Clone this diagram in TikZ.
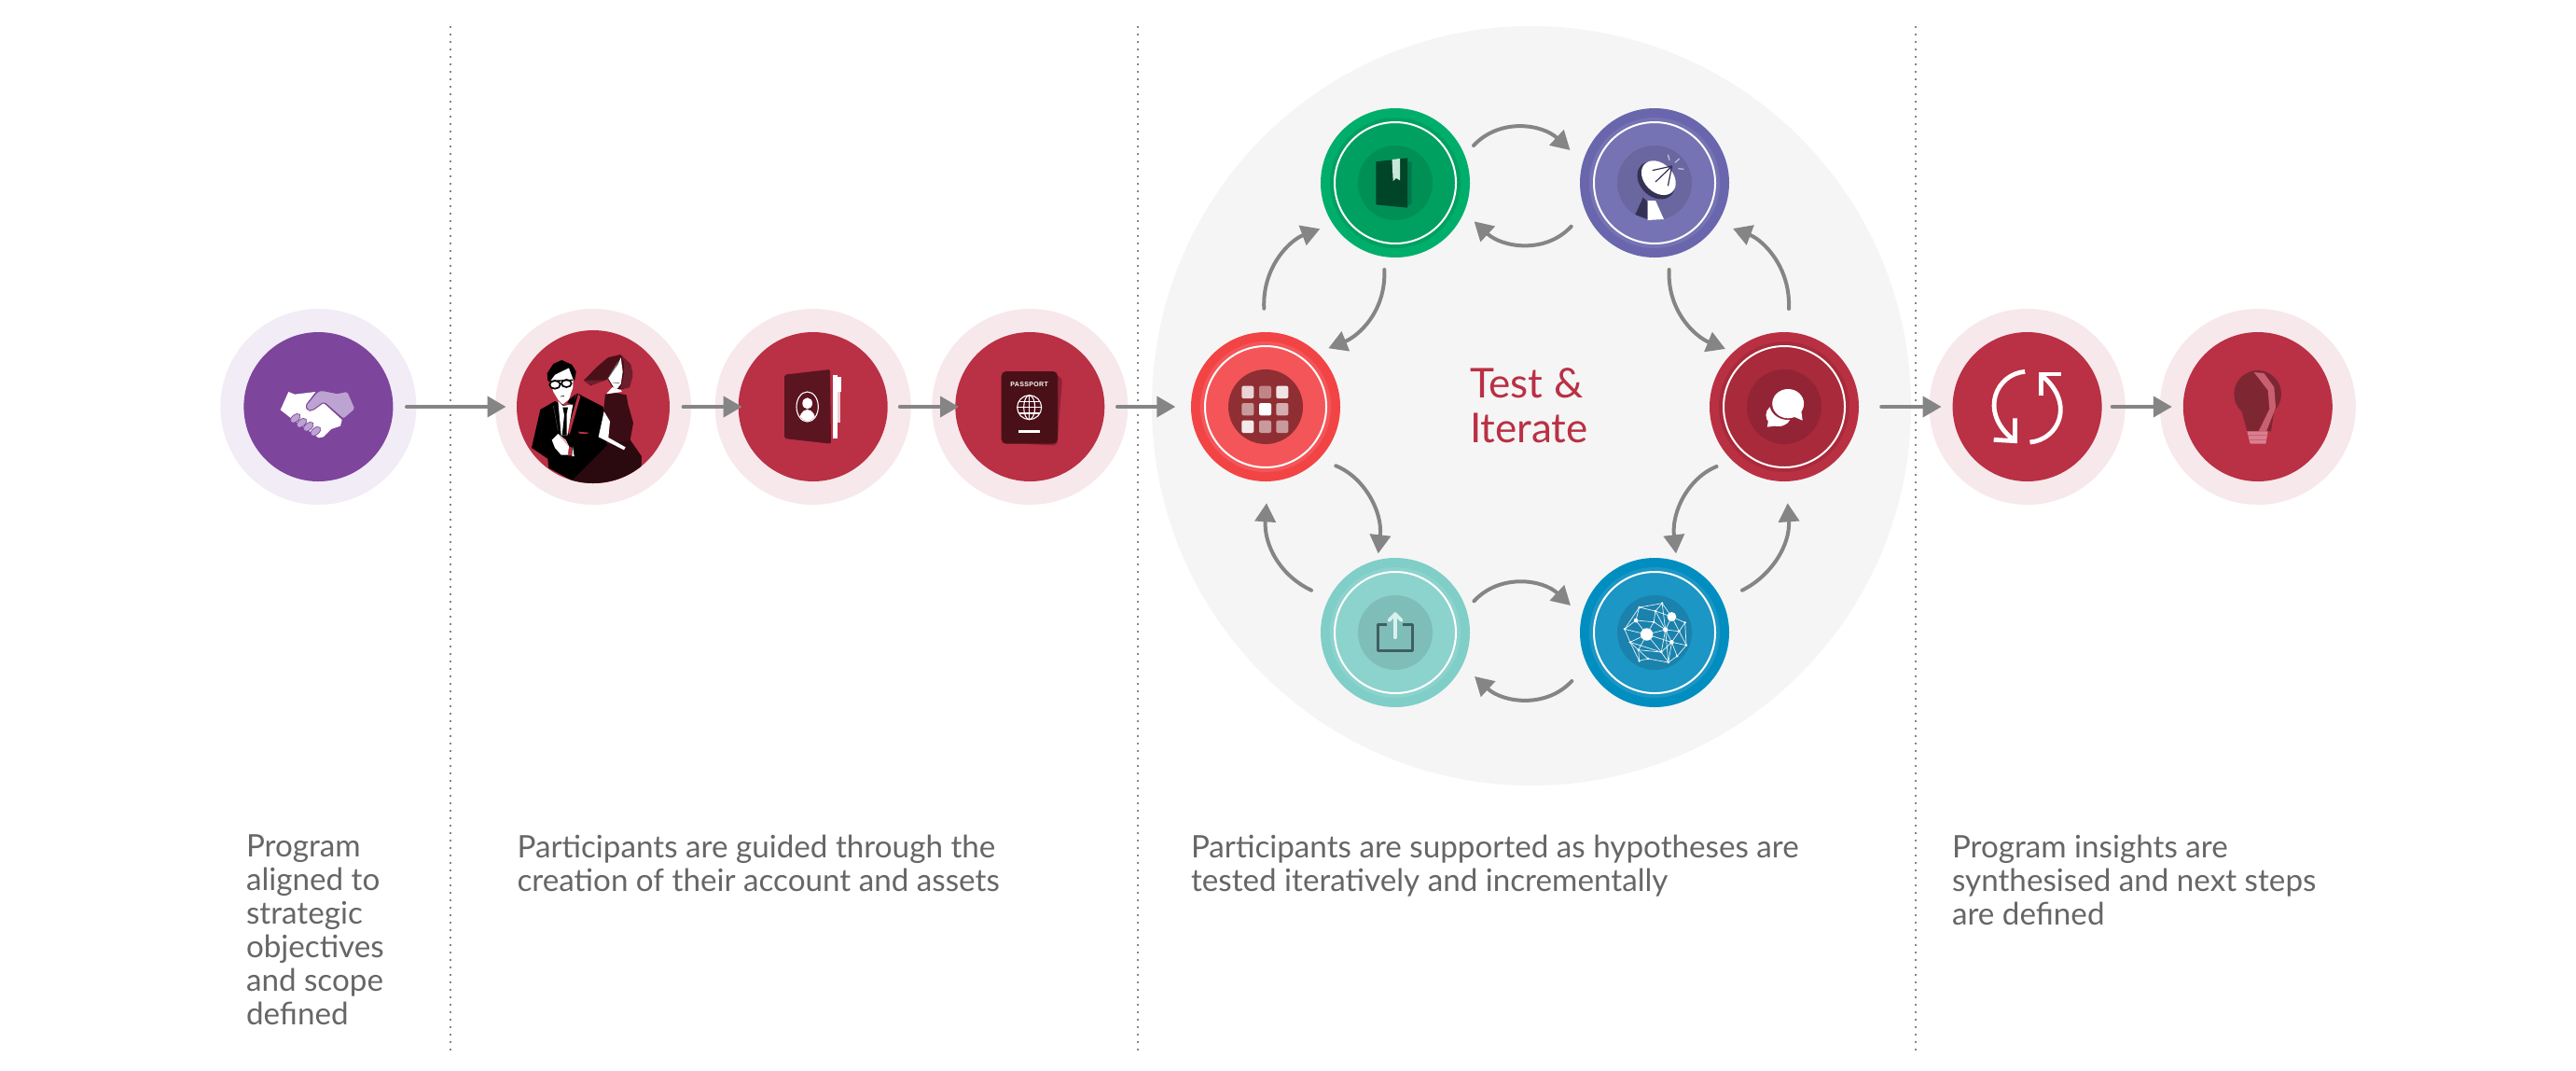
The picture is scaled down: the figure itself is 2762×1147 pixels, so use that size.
\documentclass[tikz,border=0pt]{standalone}
\usepackage{fontspec}
\setmainfont{Lato}
\newfontfamily\passfont{Liberation Sans}[LetterSpace=5]
\usetikzlibrary{arrows.meta,calc}
\definecolor{haloP}{HTML}{F1ECF6}
\definecolor{mainP}{HTML}{7D459C}
\definecolor{liteP}{HTML}{BDA3D2}
\definecolor{haloR}{HTML}{F7E8EB}
\definecolor{mainR}{HTML}{BA3044}
\definecolor{arrowgray}{HTML}{858585}
\definecolor{bigbg}{HTML}{F5F5F5}
\definecolor{capgray}{HTML}{666666}
\definecolor{wine}{HTML}{5A1520}
\definecolor{winedk}{HTML}{4A1018}
\definecolor{winelt}{HTML}{6E1F2E}
\definecolor{shadowdk}{HTML}{2A0A0E}
\definecolor{dressdk}{HTML}{3A0D14}
\definecolor{bookdk}{HTML}{004527}
\definecolor{bookbk}{HTML}{00774A}
\definecolor{bookmk}{HTML}{C9E8DC}
\definecolor{dishdk}{HTML}{343154}
\definecolor{sharedk}{HTML}{3F5F60}
\definecolor{sharelt}{HTML}{D9F0EE}
\definecolor{bulbdk}{HTML}{7E2733}
\definecolor{bulblt}{HTML}{C96072}
\definecolor{bulbbs}{HTML}{D88090}
\definecolor{gO}{HTML}{00AE6B}\definecolor{gI}{HTML}{00A060}\definecolor{gK}{HTML}{009055}
\definecolor{pO}{HTML}{6A66AD}\definecolor{pI}{HTML}{7573B3}\definecolor{pK}{HTML}{6A66A0}
\definecolor{rO}{HTML}{F24445}\definecolor{rI}{HTML}{F45558}\definecolor{rK}{HTML}{8F2F33}
\definecolor{cO}{HTML}{BA3043}\definecolor{cI}{HTML}{A82A3B}\definecolor{cK}{HTML}{932435}
\definecolor{tO}{HTML}{7FCEC7}\definecolor{tI}{HTML}{8CD3CD}\definecolor{tK}{HTML}{7FBDB9}
\definecolor{bO}{HTML}{008EC0}\definecolor{bI}{HTML}{1C96C4}\definecolor{bK}{HTML}{1A82AC}
\tikzset{
  disk/.style={circle,inner sep=0pt,outer sep=0pt,draw=none},
  flow/.style={draw=arrowgray,line width=2pt,line cap=round,-{Triangle[length=10pt,width=11pt]}},
  loopflow/.style={draw=arrowgray,line width=2pt,line cap=round,-{Triangle[length=10pt,width=11pt]}},
  dotline/.style={draw=arrowgray,line width=1pt,dash pattern=on 1.1pt off 2.9pt},
  capnode/.style={anchor=north west,inner sep=0pt,outer sep=0pt,align=left,text=capgray,font=\fontsize{16.6}{18}\selectfont},
  zoomB/.style={shift={(760,310)},x=0.16667pt,y=-0.16667pt},
  zoomC/.style={shift={(1250,90)},x=0.20408pt,y=-0.16667pt},
  zoomD/.style={shift={(1250,330)},x=0.16667pt,y=-0.16667pt},
  zoomE/.style={shift={(1250,550)},x=0.22321pt,y=-0.16667pt},
  zoomF/.style={shift={(1780,330)},x=0.24234pt,y=-0.16667pt},
  zoomG/.style={shift={(545,365)},x=0.16667pt,y=-0.16667pt},
  zoomH/.style={shift={(1730,150)},x=0.16667pt,y=-0.16667pt},
  zoomI/.style={shift={(290,400)},x=0.16667pt,y=-0.16667pt},
  zoomJ/.style={shift={(2370,385)},x=0.16667pt,y=-0.16667pt},
}
\newcommand{\flatdisk}[6]{% name x y halo main diam
  \node[disk,fill=#4,minimum size=105pt] (#1h) at (#2,#3) {};
  \node[disk,fill=#5,minimum size=#6pt] (#1) at (#2,#3) {};
}
\newcommand{\ringdisk}[6]{% name x y outer inner icon
  \node[disk,fill=#4,minimum size=80pt] (#1) at (#2,#3) {};
  \node[disk,fill=#5,minimum size=70pt] (#1i) at (#2,#3) {};
  \node[disk,draw=white,line width=1pt,minimum size=65pt] (#1w) at (#2,#3) {};
  \node[disk,fill=#6,minimum size=40pt] (#1k) at (#2,#3) {};
}
\begin{document}
\begin{tikzpicture}[x=0.5pt,y=-0.5pt]
\useasboundingbox (0,0) rectangle (2762,1147);
\fill[white] (0,0) rectangle (2762,1147);

% big background circle
\node[disk,fill=bigbg,minimum size=407pt] (bigc) at (1642,435) {};

% dotted separators
\coordinate (d1t) at (483,28);  \coordinate (d1b) at (483,1127);
\coordinate (d2t) at (1220,28); \coordinate (d2b) at (1220,1127);
\coordinate (d3t) at (2054,28); \coordinate (d3b) at (2054,1127);
\draw[dotline] (d1t) -- (d1b);
\draw[dotline] (d2t) -- (d2b);
\draw[dotline] (d3t) -- (d3b);

% row circles
\flatdisk{c1}{341.4}{436}{haloP}{mainP}{80}
\flatdisk{c2}{636}{436}{haloR}{mainR}{82}
\flatdisk{c3}{871.7}{436}{haloR}{mainR}{80}
\flatdisk{c4}{1104.3}{436}{haloR}{mainR}{80}
\flatdisk{c5}{2173.6}{436}{haloR}{mainR}{80}
\flatdisk{c6}{2420.8}{436}{haloR}{mainR}{80}

% loop circles
\ringdisk{green}{1496}{196}{gO}{gI}{gK}
\ringdisk{purple}{1774}{196}{pO}{pI}{pK}
\ringdisk{red}{1357}{436}{rO}{rI}{rK}
\ringdisk{crim}{1913}{436}{cO}{cI}{cK}
\ringdisk{teal}{1496}{678}{tO}{tI}{tK}
\ringdisk{blue}{1774}{678}{bO}{bI}{bK}

% row arrows
\draw[flow,shorten <=7.3pt,shorten >=5.75pt] (c1) -- (c2);
\draw[flow,shorten <=7.3pt,shorten >=-2pt] (c2) -- (c3);
\draw[flow,shorten <=6.6pt,shorten >=-1.85pt] (c3) -- (c4);
\draw[flow,shorten <=6.85pt,shorten >=8.35pt] (c4) -- (red);
\draw[flow,shorten <=12.1pt,shorten >=6pt] (crim) -- (c5);
\draw[flow,shorten <=5.55pt,shorten >=6pt] (c5) -- (c6);

% loop arrows
\draw[loopflow] ([shift={(84,-40)}]green.center) .. controls +(28,-30) and +(-30,-28) .. ([shift={(-90.5,-35)}]purple.center);
\draw[loopflow] ([shift={(-89.3,46.7)}]purple.center) .. controls +(-28,30) and +(30,28) .. ([shift={(84.6,41.3)}]green.center);
\draw[loopflow] ([shift={(84.4,-33.7)}]teal.center) .. controls +(28,-30) and +(-30,-28) .. ([shift={(-90,-29)}]blue.center);
\draw[loopflow] ([shift={(-88.7,52)}]blue.center) .. controls +(-28,30) and +(30,28) .. ([shift={(85,47)}]teal.center);
\draw[loopflow] ([shift={(-1.7,-105.3)}]red.center) .. controls +(-2,-45) and +(-32,12) .. ([shift={(-80.7,49.3)}]green.center);
\draw[loopflow] ([shift={(-11.7,93)}]green.center) .. controls +(2,45) and +(32,-13) .. ([shift={(67.3,-62.7)}]red.center);
\draw[loopflow] ([shift={(15.6,93)}]purple.center) .. controls +(-2,45) and +(-32,-13) .. ([shift={(-63,-62)}]crim.center);
\draw[loopflow] ([shift={(5,-105)}]crim.center) .. controls +(2,-45) and +(32,12) .. ([shift={(84,49)}]purple.center);
\draw[loopflow] ([shift={(75.3,63.3)}]red.center) .. controls +(30,12) and +(5,-45) .. ([shift={(-18.3,-84.7)}]teal.center);
\draw[loopflow] ([shift={(-90,-45.3)}]teal.center) .. controls +(-34,-16) and +(-3,44) .. ([shift={(1,103.3)}]red.center);
\draw[loopflow] ([shift={(-72.4,64)}]crim.center) .. controls +(-30,12) and +(-5,-45) .. ([shift={(23,-84.7)}]blue.center);
\draw[loopflow] ([shift={(94,-45.3)}]blue.center) .. controls +(32,-16) and +(3,44) .. ([shift={(3.7,103.3)}]crim.center);

% handshake
\begin{scope}[zoomI]
  \fill[white] (32,118) -- (58,60) -- (78,68) -- (145,60) -- (115,100) -- (130,120) -- (170,95) -- (230,150) -- (225,170) -- (195,180) -- (170,205) -- (155,208) -- (60,140) -- cycle;
  \fill[liteP,draw=mainP,line width=.5pt,rounded corners=1pt] (113,105) -- (150,60) -- (165,55) -- (215,65) -- (248,58) -- (273,115) -- (235,148) -- (172,93) -- (135,120) -- (120,120) -- cycle;
  \foreach \fx/\fy in {80/145,100/160,122/172,145/187}
    \fill[liteP,draw=mainP,line width=.35pt,rotate around={40:(\fx,\fy)}] (\fx,\fy) ellipse [x radius=19,y radius=11];
\end{scope}

% couple
\begin{scope}[zoomG]
  \clip (273,213) circle [radius=246];
  % woman's dress and long shadow
  \fill[dressdk] (312,172) -- (345,168) -- (380,175) -- (385,205) -- (402,265) -- (392,320) -- (428,372) -- (428,400) -- (320,335) -- (300,290) -- cycle;
  \fill[shadowdk] (320,335) -- (392,320) -- (428,372) -- (428,470) -- (205,470) -- (205,450) -- cycle;
  % man's jacket
  \fill[black] (103,222) -- (150,195) -- (180,208) -- (205,205) -- (222,170) -- (305,213) -- (310,250) -- (300,290) -- (320,335) -- (205,450) -- (130,410) -- (127,380) -- (75,345) -- cycle;
  \draw[black!75!white,line width=.3pt] (145,210) -- (160,290);
  % lapel, shirt, tie, pocket
  \fill[mainR] (225,172) -- (232,180) -- (197,302) -- (190,292) -- cycle;
  \fill[white] (160,195) -- (175,210) -- (208,205) -- (190,305) -- (170,305) -- cycle;
  \fill[black] (175,215) -- (192,215) -- (188,235) -- (188,305) -- (173,305) -- (180,240) -- cycle;
  \fill[mainR] (225,293) -- (258,296) -- (255,300) -- (228,299) -- cycle;
  % hand and cuff
  \fill[mainR] (195,340) -- (205,345) -- (205,370) -- (192,370) -- cycle;
  \fill[white] (207,340) -- (212,372) -- (205,372) -- cycle;
  \fill[white] (140,320) -- (160,300) -- (185,320) -- (195,340) -- (192,368) -- (170,368) -- (150,345) -- cycle;
  \fill[mainR!40!white] (160,303) -- (185,320) -- (193,340) -- (178,322) -- cycle;
  % head
  \fill[white] (133,128) -- (150,105) -- (170,95) -- (195,85) -- (209,112) -- (208,150) -- (195,190) -- (175,205) -- (160,190) -- (145,165) -- cycle;
  \fill[black] (127,130) -- (125,105) -- (145,75) -- (172,63) -- (205,78) -- (218,100) -- (213,130) -- (207,120) -- (195,88) -- (170,100) -- (150,110) -- (135,130) -- cycle;
  \draw[black,line width=.85pt,fill=white] (150,142) ellipse [x radius=17,y radius=13];
  \draw[black,line width=.85pt,fill=white] (187,138) ellipse [x radius=16,y radius=12];
  \draw[black,line width=.7pt] (130,131) -- (208,127);
  \draw[black,line width=.3pt] (168,180) -- (180,178);
  \fill[black] (195,190) -- (218,172) -- (206,206) -- (190,200) -- cycle;
  % woman's arm
  \fill[white] (308,228) -- (327,260) -- (322,312) -- (377,343) -- (372,352) -- (290,310) -- (300,265) -- cycle;
  % woman's neck, hair, face
  \fill[white] (335,150) -- (360,150) -- (365,165) -- (315,172) -- cycle;
  \fill[winedk] (243,128) -- (285,85) -- (320,55) -- (360,45) -- (392,75) -- (400,105) -- (390,150) -- (360,158) -- (335,150) -- (320,125) -- (285,135) -- (265,145) -- cycle;
  \fill[winelt] (365,50) -- (395,80) -- (400,115) -- (390,150) -- (362,155) -- (372,110) -- (372,70) -- cycle;
  \fill[winelt] (245,128) -- (310,128) -- (280,140) -- (262,143) -- cycle;
  \fill[black!55!white] (318,125) -- (345,80) -- (355,65) -- (335,115) -- cycle;
  \fill[white] (322,122) -- (352,78) -- (362,55) -- (368,100) -- (362,140) -- (350,155) -- (340,152) -- cycle;
  \draw[black!60!white,line width=.3pt] (335,135) -- (358,137);
\end{scope}

% account book
\begin{scope}[zoomB]
  \fill[white] (400,275) rectangle (413,480);
  \fill[white] (413,282) rectangle (426,330);
  \fill[haloR!85!mainR] (413,330) rectangle (423,430);
  \fill[wine,rounded corners=1pt] (243,275) -- (390,258) -- (393,497) -- (243,480) -- cycle;
  \draw[white,line width=.55pt] (317,378) ellipse [x radius=35,y radius=48];
  \begin{scope}
    \clip (317,378) ellipse [x radius=33,y radius=46];
    \fill[white] (317,367) ellipse [x radius=16,y radius=18];
    \fill[white] (317,430) ellipse [x radius=28,y radius=43];
  \end{scope}
\end{scope}

% passport
\begin{scope}[zoomB]
  \fill[mainR!60!winedk,rounded corners=2pt] (1100,270) -- (1137,285) -- (1120,503) -- (1010,497) -- cycle;
  \fill[winedk,rounded corners=2.5pt] (941,264) rectangle (1122,497);
  \node[inner sep=0pt,text=white,font=\passfont\bfseries\fontsize{3.5}{4}\selectfont] (pp) at (1031,307) {PASSPORT};
  \draw[white,line width=.55pt] (1031,380) circle [radius=39];
  \draw[white,line width=.55pt] (1031,380) ellipse [x radius=18,y radius=39];
  \draw[white,line width=.55pt] (1031,341) -- (1031,419);
  \draw[white,line width=.55pt] (992,380) -- (1070,380);
  \draw[white,line width=.55pt] (997,361) -- (1065,361);
  \draw[white,line width=.55pt] (997,399) -- (1065,399);
  \fill[white] (997,452) rectangle (1065,462);
\end{scope}

% green book
\begin{scope}[zoomC]
  \fill[bookbk] (628,250) -- (646,250) -- (646,385) -- (635,392) -- cycle;
  \fill[bookdk] (552,250) -- (635,238) -- (635,398) -- (552,388) -- cycle;
  \fill[bookmk] (594,243) -- (615,240) -- (615,310) -- (605,303) -- (597,312) -- cycle;
\end{scope}

% dish
\begin{scope}[zoomH]
  \fill[dishdk] (95,185) -- (110,200) -- (110,255) -- (70,240) -- cycle;
  \fill[white] (110,195) -- (135,195) -- (162,255) -- (110,258) -- cycle;
  \fill[dishdk,rotate around={-45:(137,130)}] (137,130) ellipse [x radius=68,y radius=52];
  \fill[white,rotate around={-45:(145,122)}] (145,122) ellipse [x radius=63,y radius=46];
  \draw[dishdk,line width=.6pt] (188,84) -- (125,98);
  \draw[dishdk,line width=.6pt] (188,84) -- (135,135);
  \draw[dishdk,line width=.6pt] (188,84) -- (175,148);
  \draw[pI!50!white,line width=.7pt] (175,47) -- (180,65);
  \draw[pI!50!white,line width=.7pt] (212,60) -- (198,73);
  \draw[pI!50!white,line width=.7pt] (208,92) -- (226,94);
\end{scope}

% tiles
\begin{scope}[zoomD]
  \foreach \tx/\ty/\tc in {244/251/E9D3D4,300/251/C08586,355/251/F2E4E5,244/306/C89A9C,300/306/FFFFFF,355/306/D4ADAF,244/362/F4E9EA,300/362/C89A9C,355/362/C89A9C}{
    \definecolor{tilec}{HTML}{\tc}
    \fill[tilec,rounded corners=1pt] (\tx,\ty) rectangle +(39,40);
  }
\end{scope}

% speech bubbles
\begin{scope}[zoomF]
  \fill[white] (262,345) ellipse [x radius=28,y radius=36];
  \fill[white] (237,383) -- (240,355) -- (262,378) -- cycle;
  \fill[cK] (283,308) ellipse [x radius=41,y radius=52];
  \fill[white] (283,308) ellipse [x radius=35,y radius=47];
  \fill[white] (296,350) -- (315,362) -- (312,330) -- cycle;
\end{scope}

% share icon
\begin{scope}[zoomE]
  \draw[sharedk,line width=1.5pt,line join=round] (530,357) -- (510,357) -- (510,441) -- (592,441) -- (592,357) -- (570,357);
  \draw[sharelt,line width=1.8pt,line cap=round] (551,400) -- (551,328);
  \draw[sharelt,line width=1.8pt,line cap=round,line join=round] (536,345) -- (551,324) -- (566,345);
\end{scope}

% brain network
\begin{scope}[zoomE]
  \foreach \pn/\px/\py in {A/1137/303,B/1192/290,C/1176/315,D/1215/333,E/1247/352,F/1129/345,G/1102/373,H/1155/390,I/1200/375,J/1233/380,K/1115/415,L/1215/415,M/1250/425,N/1135/440,O/1190/447,P/1228/460,Q/1137/475,R/1158/468,S/1207/480,T/1172/350}
    \coordinate (n\pn) at (\px,\py);
  \foreach \pa/\pb in {A/B,A/C,B/C,B/D,C/D,D/E,A/F,F/G,A/G,F/T,T/C,T/I,C/I,D/I,I/J,E/J,D/J,E/M,J/M,G/K,F/H,G/H,T/H,H/I,H/K,H/N,H/O,H/L,I/L,J/L,L/M,L/P,M/P,K/N,K/Q,N/Q,N/R,Q/R,R/S,O/S,N/O,O/L,L/S,P/S,I/S,K/O,B/I,I/O}
    \draw[white,line width=.35pt,opacity=.9] (n\pa) -- (n\pb);
  \foreach \pn in {A,B,C,E,G,J,K,M,N,O,P,Q,R,S,T}
    \fill[white] (n\pn) ellipse [x radius=3,y radius=4];
  \fill[white] (nD) ellipse [x radius=11,y radius=15];
  \fill[white] (nH) ellipse [x radius=15,y radius=20];
  \fill[white] (nI) ellipse [x radius=6,y radius=8];
  \fill[white] (nF) ellipse [x radius=5,y radius=7];
  \fill[white] (nL) ellipse [x radius=5,y radius=7];
\end{scope}

% sync icon
\begin{scope}[zoomF]
  \draw[white,line width=2.4pt] (807,205) .. controls (745,212) and (705,330) .. (778,420);
  \draw[white,line width=2.4pt] (785,355) -- (785,428) -- (738,424);
  \draw[white,line width=2.4pt] (818,432) .. controls (880,425) and (920,310) .. (845,218);
  \draw[white,line width=2.4pt] (843,281) -- (843,213) -- (888,213);
\end{scope}

% bulb
\begin{scope}[zoomJ]
  \fill[bulbdk] (152,112) circle [radius=76];
  \fill[bulbdk] (100,165) -- (118,232) -- (195,232) -- (205,165) -- cycle;
  \fill[bulblt] (140,42) -- (172,45) -- (205,90) -- (210,155) -- (180,232) -- (155,232) -- (190,160) -- (185,100) -- cycle;
  \fill[bulbbs] (118,232) -- (185,232) -- (178,272) -- (128,272) -- cycle;
  \draw[bulblt,line width=.5pt] (120,245) -- (184,245);
  \draw[bulblt,line width=.5pt] (122,258) -- (181,258);
\end{scope}

% texts
\node[anchor=north west,inner sep=0pt,outer sep=0pt,align=left,text=mainR,font=\fontsize{22}{24}\selectfont] (ti) at (1576,395) {Test \&\\Iterate};
\node[capnode] (t1) at (264,895) {Program\\aligned to\\strategic\\objectives\\and scope\\defined};
\node[capnode] (t2) at (554.6,895) {Participants are guided through the\\creation of their account and assets};
\node[capnode] (t3) at (1277,895) {Participants are supported as hypotheses are\\tested iteratively and incrementally};
\node[capnode] (t4) at (2093,895) {Program insights are\\synthesised and next steps\\are defined};
\end{tikzpicture}
\end{document}
